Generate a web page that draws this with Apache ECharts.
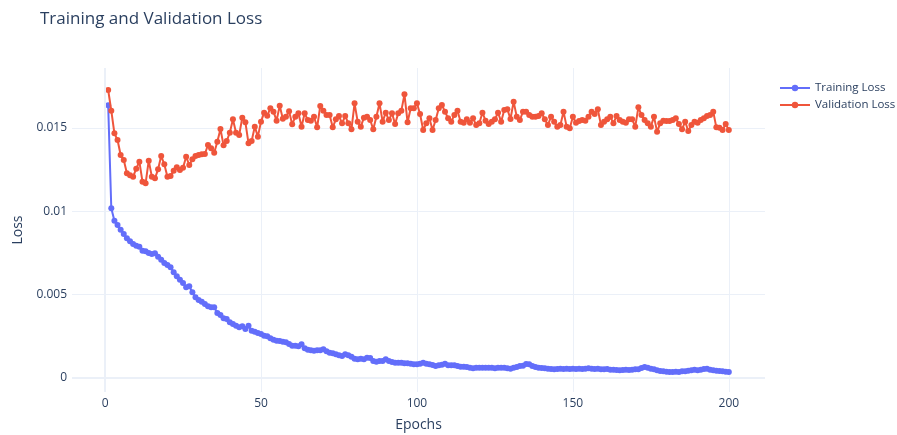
<!DOCTYPE html>
<html>
<head>
<meta charset="utf-8">
<script src="https://cdn.jsdelivr.net/npm/echarts@6/dist/echarts.min.js"></script>
<style>
  html, body { margin: 0; padding: 0; background: #fff; }
  #chart { width: 897px; height: 435px; }
</style>
</head>
<body>
<div id="chart"></div>
<script>
// Per-epoch loss values over 200 training epochs
const epochs = Array.from({ length: 200 }, (_, i) => i + 1);

const trainingLoss = [
  0.01636, 0.01018, 0.00944, 0.00918, 0.0089, 0.00864, 0.00838, 0.0082, 0.00804, 0.00794,
  0.00788, 0.00764, 0.0076, 0.0075, 0.00744, 0.00748, 0.00728, 0.0071, 0.0069, 0.00678,
  0.00664, 0.00634, 0.0061, 0.0059, 0.0057, 0.00544, 0.0055, 0.00514, 0.00484, 0.00468,
  0.00458, 0.00444, 0.0043, 0.00424, 0.00424, 0.0039, 0.00378, 0.00358, 0.00354, 0.00334,
  0.00324, 0.00314, 0.00304, 0.0031, 0.00294, 0.00314, 0.00284, 0.00278, 0.0027, 0.00264,
  0.00254, 0.0025, 0.00238, 0.0023, 0.00224, 0.00222, 0.00218, 0.00214, 0.00204, 0.00194,
  0.00194, 0.0019, 0.00202, 0.00178, 0.0017, 0.00166, 0.00164, 0.00166, 0.00166, 0.00172,
  0.0016, 0.00152, 0.00148, 0.00142, 0.00136, 0.00132, 0.00142, 0.00136, 0.00128, 0.00116,
  0.00112, 0.00116, 0.00112, 0.00122, 0.0012, 0.00102, 0.00098, 0.00102, 0.00102, 0.00112,
  0.00102, 0.00096, 0.00092, 0.00092, 0.00092, 0.00088, 0.00088, 0.00086, 0.00082, 0.00082,
  0.00086, 0.00092, 0.00086, 0.00082, 0.00078, 0.00072, 0.00076, 0.0008, 0.00086, 0.00076,
  0.00076, 0.00076, 0.00072, 0.00068, 0.00068, 0.00066, 0.00062, 0.00058, 0.00062, 0.00062,
  0.00062, 0.00062, 0.00062, 0.00062, 0.00058, 0.00062, 0.00062, 0.00062, 0.00058, 0.00056,
  0.00062, 0.00066, 0.00072, 0.00074, 0.00084, 0.00082, 0.00072, 0.00066, 0.00062, 0.0006,
  0.00058, 0.00056, 0.00054, 0.00052, 0.00054, 0.00056, 0.00054, 0.00056, 0.00054, 0.00056,
  0.00054, 0.00056, 0.00054, 0.00056, 0.00058, 0.00056, 0.00054, 0.00056, 0.00052, 0.00052,
  0.00054, 0.0005, 0.0005, 0.00048, 0.00046, 0.00048, 0.0005, 0.00048, 0.0005, 0.00052,
  0.00052, 0.0006, 0.00066, 0.00062, 0.00056, 0.00052, 0.00046, 0.00042, 0.0004, 0.00038,
  0.00036, 0.00036, 0.00038, 0.00036, 0.0004, 0.0004, 0.00044, 0.00046, 0.0005, 0.00046,
  0.0005, 0.00054, 0.00056, 0.0005, 0.00046, 0.00044, 0.00042, 0.0004, 0.00038, 0.00036
];

const validationLoss = [
  0.01728, 0.01604, 0.01468, 0.01428, 0.01338, 0.01308, 0.01228, 0.01216, 0.01208, 0.01256,
  0.01298, 0.01178, 0.01168, 0.01304, 0.01208, 0.01198, 0.01252, 0.01332, 0.01282, 0.01208,
  0.01212, 0.01244, 0.01264, 0.01248, 0.01262, 0.01328, 0.01278, 0.01312, 0.01332, 0.01338,
  0.01342, 0.01344, 0.01398, 0.01378, 0.01352, 0.01418, 0.01494, 0.01396, 0.01422, 0.01472,
  0.01552, 0.01472, 0.01458, 0.01562, 0.01534, 0.01408, 0.01422, 0.01508, 0.01448, 0.01538,
  0.01592, 0.01574, 0.01618, 0.01598, 0.01544, 0.01634, 0.01556, 0.01568, 0.016, 0.01522,
  0.01568, 0.01588, 0.01508, 0.01588, 0.01548, 0.01544, 0.01568, 0.01504, 0.01632, 0.01604,
  0.01578, 0.01578, 0.01504, 0.01552, 0.01572, 0.01528, 0.01572, 0.01528, 0.01492, 0.01648,
  0.01538, 0.01508, 0.01562, 0.01568, 0.01548, 0.01492, 0.01568, 0.01648, 0.01538, 0.01592,
  0.01548, 0.01588, 0.01524, 0.01588, 0.01604, 0.01702, 0.01534, 0.01618, 0.01618, 0.01648,
  0.01584, 0.01488, 0.01528, 0.01558, 0.01488, 0.01548, 0.01618, 0.01638, 0.01598, 0.01558,
  0.01538, 0.01578, 0.01604, 0.01538, 0.01532, 0.01552, 0.01532, 0.01558, 0.01518, 0.01528,
  0.01592, 0.01544, 0.01524, 0.01538, 0.01552, 0.01592, 0.01538, 0.01608, 0.01612, 0.01554,
  0.01658, 0.01568, 0.01548, 0.01598, 0.01598, 0.01578, 0.01568, 0.01568, 0.01572, 0.01588,
  0.01552, 0.01518, 0.01568, 0.01538, 0.01508, 0.01518, 0.01598, 0.01508, 0.01498, 0.01568,
  0.01532, 0.01542, 0.01548, 0.01544, 0.01568, 0.01598, 0.01584, 0.01612, 0.01518, 0.01538,
  0.01552, 0.01568, 0.01528, 0.01572, 0.01548, 0.01538, 0.01532, 0.01552, 0.01552, 0.01508,
  0.01624, 0.01578, 0.01548, 0.01528, 0.01508, 0.01568, 0.01478, 0.01528, 0.01544, 0.01542,
  0.01542, 0.01548, 0.01558, 0.01524, 0.01492, 0.01538, 0.01482, 0.01518, 0.01538, 0.01532,
  0.01548, 0.01558, 0.01572, 0.01578, 0.01598, 0.01504, 0.01502, 0.01488, 0.01524, 0.01488
];

const xTicks = [0, 50, 100, 150, 200];
const yTicks = [0, 0.005, 0.01, 0.015];

const TEXT = '#2a3f5f';
const GRID = '#EBF0F8';
const FONT = '"Open Sans", "Noto Sans", sans-serif';

const pairs = (vals) => epochs.map((e, i) => [e, vals[i]]);

const chart = echarts.init(document.getElementById('chart'), null, { renderer: 'canvas' });

chart.setOption({
  animation: false,
  backgroundColor: '#ffffff',
  textStyle: { fontFamily: FONT },
  title: {
    text: 'Training and Validation Loss',
    left: 35,
    top: 6,
    textStyle: { color: TEXT, fontSize: 17, fontWeight: 'normal', fontFamily: FONT }
  },
  legend: {
    orient: 'vertical',
    left: 774,
    top: 77,
    itemWidth: 30,
    itemHeight: 8,
    itemGap: 5,
    textStyle: { color: TEXT, fontSize: 11.5, fontFamily: FONT },
    data: ['Training Loss', 'Validation Loss']
  },
  grid: {
    left: 72, right: 132, top: 68, bottom: 43,
    containLabel: false,
    outerBoundsMode: 'none'
  },
  xAxis: {
    type: 'value',
    min: -10.6,
    max: 211.6,
    name: 'Epochs',
    nameLocation: 'middle',
    nameGap: 26,
    nameTextStyle: { color: TEXT, fontSize: 14, fontFamily: FONT },
    axisLine: { show: false },
    axisTick: { show: false, customValues: xTicks },
    axisLabel: { customValues: xTicks, color: TEXT, fontSize: 12, fontFamily: FONT, margin: 6 },
    splitLine: { show: true, lineStyle: { color: GRID, width: 1 } }
  },
  yAxis: {
    type: 'value',
    min: -0.00084,
    max: 0.0186,
    name: 'Loss',
    nameLocation: 'middle',
    nameGap: 46,
    nameRotate: 90,
    nameTextStyle: { color: TEXT, fontSize: 14, fontFamily: FONT },
    axisLine: { show: false },
    axisTick: { show: false, customValues: yTicks },
    axisLabel: {
      customValues: yTicks,
      color: TEXT, fontSize: 12, fontFamily: FONT, margin: 5,
      formatter: (v) => String(+v.toFixed(4))
    },
    splitLine: { show: true, lineStyle: { color: GRID, width: 1 } }
  },
  series: [
    {
      // zero lines drawn slightly heavier than the grid
      type: 'line',
      data: [],
      silent: true,
      z: 1,
      markLine: {
        silent: true,
        symbol: ['none', 'none'],
        label: { show: false },
        lineStyle: { color: GRID, width: 2, type: 'solid' },
        data: [{ xAxis: 0 }, { yAxis: 0 }]
      }
    },
    {
      name: 'Training Loss',
      type: 'line',
      data: pairs(trainingLoss),
      z: 3,
      symbol: 'circle',
      symbolSize: 6,
      showAllSymbol: true,
      color: '#636EFA',
      lineStyle: { width: 2, color: '#636EFA' },
      itemStyle: { color: '#636EFA' }
    },
    {
      name: 'Validation Loss',
      type: 'line',
      data: pairs(validationLoss),
      z: 4,
      symbol: 'circle',
      symbolSize: 6,
      showAllSymbol: true,
      color: '#EF553B',
      lineStyle: { width: 2, color: '#EF553B' },
      itemStyle: { color: '#EF553B' }
    }
  ]
});
</script>
</body>
</html>
